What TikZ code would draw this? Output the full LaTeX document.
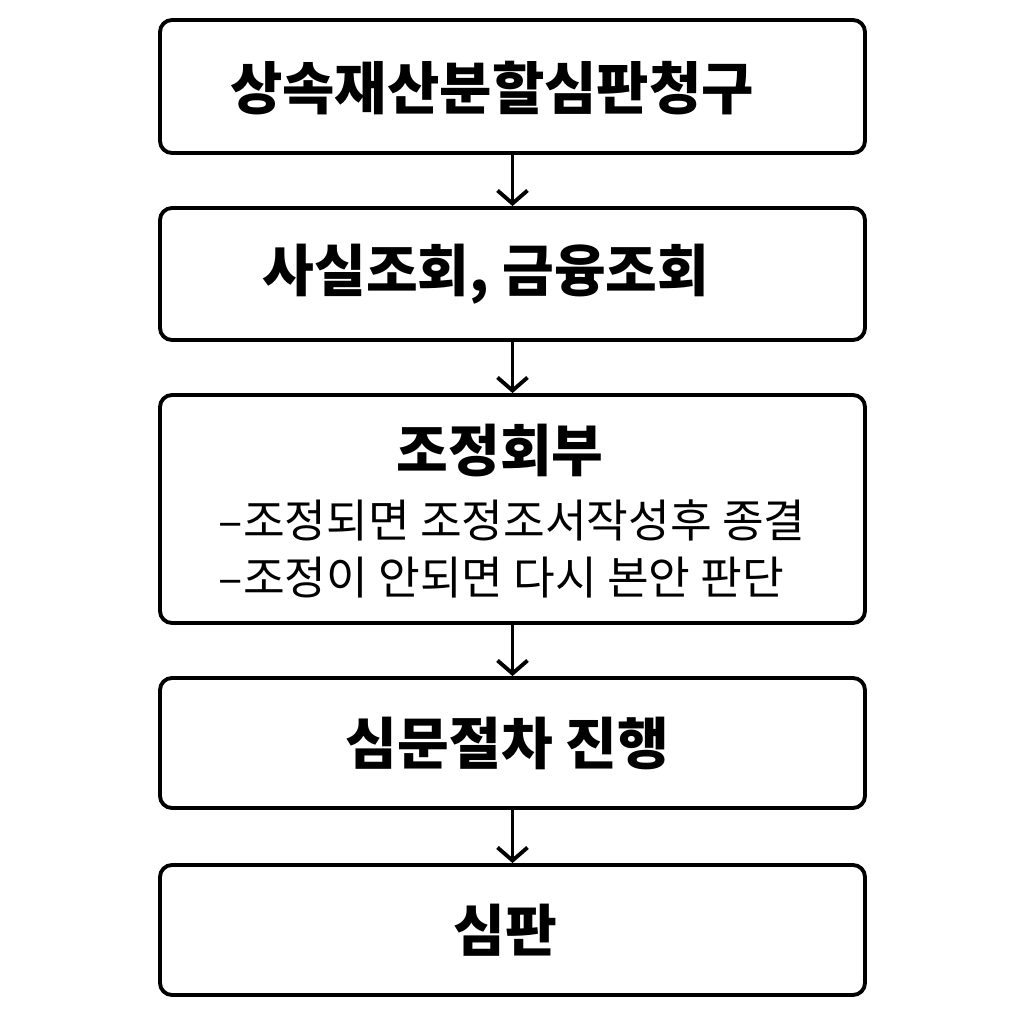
\documentclass[tikz,border=0pt]{standalone}
\usepackage{fontspec}
\setmainfont{Noto Sans CJK KR}
\usetikzlibrary{arrows.meta}
\tikzset{
  stage/.style={draw, line width=1.1pt, rounded corners=0.12cm, minimum width=7.05cm, inner sep=0pt},
  flow/.style={-{Straight Barb[length=0.13cm, width=0.3cm]}, line width=1.1pt}
}
\begin{document}
\begin{tikzpicture}
  \useasboundingbox (0,0) rectangle (10.24,10.24);
  %%draw the stages
  \node[stage, minimum height=1.33cm] (claim) at (5.125, 9.375){};
      \node (claimtext) at (4.92, 9.36){\fontsize{16.2pt}{19pt}\selectfont\bfseries 상속재산분할심판청구};
  \node[stage, minimum height=1.32cm] (inquiry) at (5.125, 7.50){};
      \node (inquirytext) at (4.86, 7.50){\fontsize{16pt}{19pt}\selectfont\bfseries 사실조회, 금융조회};
  \node[stage, minimum height=2.28cm] (mediation) at (5.125, 5.15){};
      \node (medtitle) at (5.0, 5.73){\fontsize{16pt}{19pt}\selectfont\bfseries 조정회부};
      \node[anchor=west, inner sep=0pt] (medone) at (2.18, 5.04){\fontsize{12.9pt}{15pt}\selectfont –조정되면 조정조서작성후 종결};
      \node[anchor=west, inner sep=0pt] (medtwo) at (2.18, 4.46){\fontsize{12.9pt}{15pt}\selectfont –조정이 안되면 다시 본안 판단};
  \node[stage, minimum height=1.30cm] (hearing) at (5.125, 2.81){};
      \node (hearingtext) at (5.075, 2.81){\fontsize{16pt}{19pt}\selectfont\bfseries 심문절차 진행};
  \node[stage, minimum height=1.30cm] (ruling) at (5.125, 0.94){};
      \node (rulingtext) at (5.05, 0.94){\fontsize{16pt}{19pt}\selectfont\bfseries 심판};
  %%draw the arrows
  \draw[flow] (claim) -- (inquiry);
  \draw[flow] (inquiry) -- (mediation);
  \draw[flow] (mediation) -- (hearing);
  \draw[flow] (hearing) -- (ruling);
\end{tikzpicture}
\end{document}
